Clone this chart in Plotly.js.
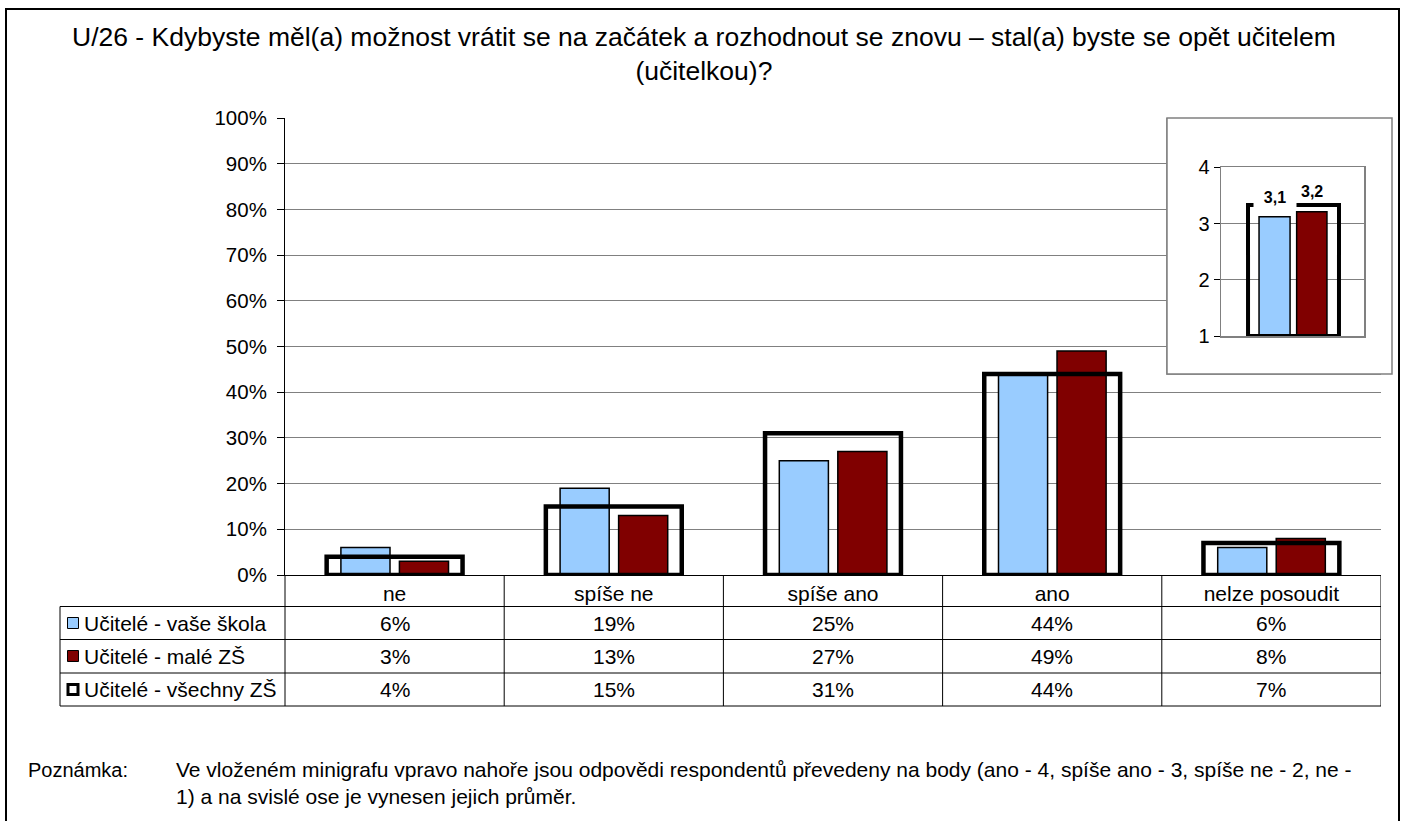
<!DOCTYPE html>
<html>
<head>
<meta charset="utf-8">
<script src="https://cdn.plot.ly/plotly-3.0.1.min.js"></script>
<style>html,body{margin:0;padding:0;background:#fff;}</style>
</head>
<body>
<div id="chart" style="width:1405px;height:821px;"></div>
<script>
// ---- data ----
var categories = ['ne', 'spíše ne', 'spíše ano', 'ano', 'nelze posoudit'];
var seriesNames = ['Učitelé - vaše škola', 'Učitelé - malé ZŠ', 'Učitelé - všechny ZŠ'];
var vaseSkola = [6, 19, 25, 44, 6];
var maleZS = [3, 13, 27, 49, 8];
var vsechnyZS = [4, 15, 31, 44, 7];
var yTicks = [0, 10, 20, 30, 40, 50, 60, 70, 80, 90, 100];
// inset: mean scores (1-4)
var insetMeans = [3.12, 3.21, 3.33];
var insetTicks = [1, 2, 3, 4];

var titleText = 'U/26 - Kdybyste měl(a) možnost vrátit se na začátek a rozhodnout se znovu – stal(a) byste se opět učitelem<br>(učitelkou)?';
var noteLabel = 'Poznámka:';
var noteText = 'Ve vloženém minigrafu vpravo nahoře jsou odpovědi respondentů převedeny na body (ano - 4, spíše ano - 3, spíše ne - 2, ne -<br>1) a na svislé ose je vynesen jejich průměr.';

// ---- geometry helpers (layout only) ----
var W = 1405, H = 821;
var L = 285, R = 1381, T = 118, B = 575;
function xp(px) { return (px - L) / (R - L); }
function yp(py) { return (B - py) / (B - T); }
var FONT = 'Arial, "Liberation Sans", sans-serif';
var BLUE = '#99CCFF', RED = '#800000';

var traces = [
  {type: 'bar', name: seriesNames[0], x: categories, y: vaseSkola, offset: -0.245, width: 0.224,
   marker: {color: BLUE, line: {color: '#000', width: 1.5}}, xaxis: 'x', yaxis: 'y', hoverinfo: 'none'},
  {type: 'bar', name: seriesNames[1], x: categories, y: maleZS, offset: 0.022, width: 0.224,
   marker: {color: RED, line: {color: '#000', width: 1.5}}, xaxis: 'x', yaxis: 'y', hoverinfo: 'none'},
  {type: 'bar', name: seriesNames[2], x: categories, y: vsechnyZS, offset: -0.31, width: 0.62,
   marker: {color: 'rgba(0,0,0,0)', line: {color: '#000', width: 4.5}}, xaxis: 'x', yaxis: 'y', hoverinfo: 'none'},
  // inset
  {type: 'bar', x: [0], y: [insetMeans[0] - 1], base: 1, offset: -0.234, width: 0.217,
   marker: {color: BLUE, line: {color: '#000', width: 1.5}}, xaxis: 'x2', yaxis: 'y2', hoverinfo: 'none'},
  {type: 'bar', x: [0], y: [insetMeans[1] - 1], base: 1, offset: 0.029, width: 0.212,
   marker: {color: RED, line: {color: '#000', width: 1.5}}, xaxis: 'x2', yaxis: 'y2', hoverinfo: 'none'},
  {type: 'bar', x: [0], y: [insetMeans[2] - 1], base: 1, offset: -0.311, width: 0.636,
   marker: {color: 'rgba(0,0,0,0)', line: {color: '#000', width: 4}}, xaxis: 'x2', yaxis: 'y2', hoverinfo: 'none'}
];

var shapes = [];
var annotations = [];

// outer border
shapes.push({type: 'rect', xref: 'paper', yref: 'paper', x0: xp(6), x1: xp(1399), y0: yp(9), y1: yp(840),
  line: {color: '#000', width: 2}, fillcolor: 'rgba(0,0,0,0)', layer: 'below'});

// title
annotations.push({xref: 'paper', yref: 'paper', x: xp(704), y: yp(54), xanchor: 'center', yanchor: 'middle', align: 'center',
  text: titleText, showarrow: false, font: {size: 26.5, color: '#000', family: FONT}});

// inset box: part outside plot area (paper) + part inside plot area (between grid and traces)
var boxX0 = 1167, boxX1 = 1392, boxY0 = 118, boxY1 = 374;
shapes.push({type: 'rect', xref: 'paper', yref: 'paper', x0: xp(boxX0), x1: xp(boxX1), y0: yp(boxY0), y1: yp(boxY1),
  line: {color: '#808080', width: 1.5}, fillcolor: '#fff', layer: 'below'});
var catW = (R - L) / categories.length;
function xd(px) { return (px - L) / catW - 0.5; }
function yd(py) { return (B - py) / (B - T) * 100; }
shapes.push({type: 'rect', xref: 'x', yref: 'y', x0: xd(boxX0), x1: xd(boxX1 + 20), y0: yd(boxY0), y1: yd(boxY1),
  line: {color: '#808080', width: 1.5}, fillcolor: '#fff', layer: 'between'});

// table lines
var rowLines = [606.5, 639.5, 673, 706];
rowLines.forEach(function (py) {
  shapes.push({type: 'line', xref: 'paper', yref: 'paper', x0: xp(60), x1: 1, y0: yp(py), y1: yp(py),
    line: {color: '#000', width: 1}});
});
shapes.push({type: 'line', xref: 'paper', yref: 'paper', x0: xp(60), x1: xp(60), y0: yp(606.5), y1: yp(706),
  line: {color: '#000', width: 1}});
shapes.push({type: 'line', xref: 'paper', yref: 'paper', x0: 0, x1: 0, y0: 0, y1: yp(706),
  line: {color: '#000', width: 1}});
for (var i = 0; i < categories.length; i++) {
  shapes.push({type: 'line', xref: 'x', yref: 'paper', x0: i + 0.5, x1: i + 0.5, y0: 0, y1: yp(706),
    line: {color: '#000', width: 1}});
}

// table rows: legend keys, names and values
var rowData = [vaseSkola, maleZS, vsechnyZS];
var rowCenters = [623, 656, 689.5];
var keyFill = [BLUE, RED, '#fff'];
var keyLine = [1, 1, 3];
for (var r = 0; r < 3; r++) {
  var cy = rowCenters[r];
  var hs = r === 2 ? 5 : 5.5;
  shapes.push({type: 'rect', xref: 'paper', yref: 'paper', x0: xp(73 - hs), x1: xp(73 + hs), y0: yp(cy - hs), y1: yp(cy + hs),
    fillcolor: keyFill[r], line: {color: '#000', width: keyLine[r]}});
  annotations.push({xref: 'paper', yref: 'paper', x: xp(82), y: yp(cy), xanchor: 'left', yanchor: 'middle',
    text: seriesNames[r], showarrow: false, font: {size: 21, color: '#000', family: FONT}});
  for (var c = 0; c < categories.length; c++) {
    annotations.push({xref: 'x', yref: 'paper', x: c, y: yp(cy), xanchor: 'center', yanchor: 'middle',
      text: rowData[r][c] + '%', showarrow: false, font: {size: 21, color: '#000', family: FONT}});
  }
}

// inset value labels
function fmt(v) { return v.toFixed(1).replace('.', ','); }
annotations.push({xref: 'x2', yref: 'y2', x: -0.234 + 0.217 / 2, y: insetMeans[0], yshift: 20, text: '<b>' + fmt(insetMeans[0]) + '</b>',
  showarrow: false, font: {size: 16, color: '#000', family: FONT}, bgcolor: '#fff', width: 40, height: 22});
annotations.push({xref: 'x2', yref: 'y2', x: 0.029 + 0.212 / 2, y: insetMeans[1], yshift: 20, text: '<b>' + fmt(insetMeans[1]) + '</b>',
  showarrow: false, font: {size: 16, color: '#000', family: FONT}});

// note
annotations.push({xref: 'paper', yref: 'paper', x: xp(26), y: yp(770), xanchor: 'left', yanchor: 'middle', align: 'left',
  text: noteLabel, showarrow: false, font: {size: 20, color: '#000', family: FONT}});
annotations.push({xref: 'paper', yref: 'paper', x: xp(174), y: yp(783), xanchor: 'left', yanchor: 'middle', align: 'left',
  text: noteText, showarrow: false, font: {size: 21, color: '#000', family: FONT}});

var layout = {
  width: W, height: H, autosize: false,
  margin: {l: L, r: W - R, t: T, b: H - B, pad: 0},
  paper_bgcolor: '#fff', plot_bgcolor: '#fff',
  font: {family: FONT, color: '#000'},
  showlegend: false,
  barmode: 'overlay',
  xaxis: {type: 'category', categoryorder: 'array', categoryarray: categories, range: [-0.5, 4.5],
    showline: true, linecolor: '#000', linewidth: 1, ticks: '', showgrid: false, zeroline: false,
    tickfont: {size: 21, color: '#000', family: FONT}, fixedrange: true},
  yaxis: {range: [0, 100], tickvals: yTicks, ticktext: yTicks.map(function (v) { return v + '%'; }),
    ticks: 'outside', ticklen: 7, tickcolor: '#000', showline: true, linecolor: '#000', linewidth: 1,
    showgrid: true, gridcolor: '#808080', gridwidth: 1, zeroline: false, ticklabelstandoff: 6,
    tickfont: {size: 20.5, color: '#000', family: FONT}, fixedrange: true},
  xaxis2: {domain: [xp(1221), xp(1364)], anchor: 'y2', range: [-0.5, 0.5], showticklabels: false, ticks: '',
    showgrid: false, zeroline: false, showline: true, linecolor: '#808080', linewidth: 1.5, mirror: true, fixedrange: true},
  yaxis2: {domain: [yp(336), yp(167.3)], anchor: 'x2', range: [1, 4], tickvals: insetTicks,
    ticks: 'outside', ticklen: 6, tickcolor: '#000', showline: true, linecolor: '#808080', linewidth: 1.5, mirror: true,
    showgrid: true, gridcolor: '#808080', gridwidth: 1, zeroline: false,
    tickfont: {size: 20, color: '#000', family: FONT}, fixedrange: true},
  shapes: shapes,
  annotations: annotations
};

Plotly.newPlot('chart', traces, layout, {displayModeBar: false, staticPlot: true});
</script>
</body>
</html>
